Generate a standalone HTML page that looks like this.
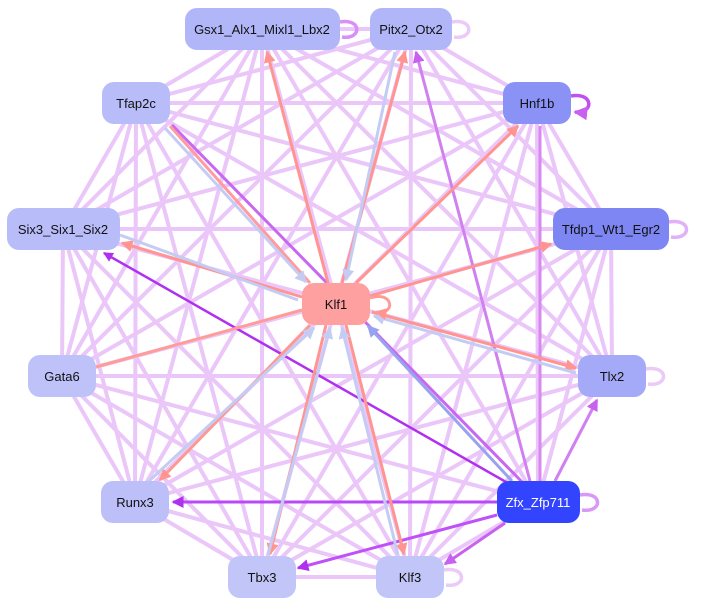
<!DOCTYPE html>
<html><head><meta charset="utf-8"><style>
html,body{margin:0;padding:0;background:#fff;}
svg{display:block;}
text{font-family:"Liberation Sans",sans-serif;font-size:13px;}
</style></head><body>
<svg width="701" height="608" viewBox="0 0 701 608" xmlns="http://www.w3.org/2000/svg">
<defs>
<marker id="ap" markerWidth="4" markerHeight="4" refX="3.5" refY="2" orient="auto" markerUnits="strokeWidth"><path d="M0,0 L4,2 L0,4z" fill="#b030f0"/></marker>
<marker id="am" markerWidth="4" markerHeight="4" refX="3.5" refY="2" orient="auto" markerUnits="strokeWidth"><path d="M0,0 L4,2 L0,4z" fill="#c860f0"/></marker>
<marker id="as" markerWidth="4" markerHeight="4" refX="3.5" refY="2" orient="auto" markerUnits="strokeWidth"><path d="M0,0 L4,2 L0,4z" fill="#ff9490"/></marker>
<marker id="ab" markerWidth="4" markerHeight="4" refX="3.5" refY="2" orient="auto" markerUnits="strokeWidth"><path d="M0,0 L4,2 L0,4z" fill="#c4ccf4"/></marker>
<marker id="ab2" markerWidth="4" markerHeight="4" refX="3.5" refY="2" orient="auto" markerUnits="strokeWidth"><path d="M0,0 L4,2 L0,4z" fill="#98a2f0"/></marker>
</defs>
<g stroke="#eac6f9" stroke-width="4" fill="none">
<line x1="262" y1="29" x2="411" y2="29"/><line x1="262" y1="29" x2="136" y2="103"/><line x1="262" y1="29" x2="537" y2="103"/><line x1="262" y1="29" x2="63" y2="229"/><line x1="262" y1="29" x2="611" y2="229"/><line x1="262" y1="29" x2="62" y2="376"/><line x1="262" y1="29" x2="612" y2="376"/><line x1="262" y1="29" x2="135" y2="502"/><line x1="262" y1="29" x2="538" y2="502"/><line x1="262" y1="29" x2="262" y2="577"/><line x1="262" y1="29" x2="410" y2="577"/>
<line x1="411" y1="29" x2="136" y2="103"/><line x1="411" y1="29" x2="537" y2="103"/><line x1="411" y1="29" x2="63" y2="229"/><line x1="411" y1="29" x2="611" y2="229"/><line x1="411" y1="29" x2="62" y2="376"/><line x1="411" y1="29" x2="612" y2="376"/><line x1="411" y1="29" x2="135" y2="502"/><line x1="411" y1="29" x2="262" y2="577"/><line x1="411" y1="29" x2="410" y2="577"/>
<line x1="136" y1="103" x2="537" y2="103"/><line x1="136" y1="103" x2="63" y2="229"/><line x1="136" y1="103" x2="611" y2="229"/><line x1="136" y1="103" x2="62" y2="376"/><line x1="136" y1="103" x2="612" y2="376"/><line x1="136" y1="103" x2="135" y2="502"/><line x1="136" y1="103" x2="262" y2="577"/><line x1="136" y1="103" x2="410" y2="577"/>
<line x1="537" y1="103" x2="63" y2="229"/><line x1="537" y1="103" x2="611" y2="229"/><line x1="537" y1="103" x2="62" y2="376"/><line x1="537" y1="103" x2="612" y2="376"/><line x1="537" y1="103" x2="135" y2="502"/><line x1="537" y1="103" x2="538" y2="502"/><line x1="537" y1="103" x2="262" y2="577"/><line x1="537" y1="103" x2="410" y2="577"/>
<line x1="63" y1="229" x2="611" y2="229"/><line x1="63" y1="229" x2="62" y2="376"/><line x1="63" y1="229" x2="612" y2="376"/><line x1="63" y1="229" x2="135" y2="502"/><line x1="63" y1="229" x2="262" y2="577"/><line x1="63" y1="229" x2="410" y2="577"/>
<line x1="611" y1="229" x2="62" y2="376"/><line x1="611" y1="229" x2="612" y2="376"/><line x1="611" y1="229" x2="135" y2="502"/><line x1="611" y1="229" x2="538" y2="502"/><line x1="611" y1="229" x2="262" y2="577"/><line x1="611" y1="229" x2="410" y2="577"/>
<line x1="62" y1="376" x2="612" y2="376"/><line x1="62" y1="376" x2="135" y2="502"/><line x1="62" y1="376" x2="538" y2="502"/><line x1="62" y1="376" x2="262" y2="577"/><line x1="62" y1="376" x2="410" y2="577"/>
<line x1="612" y1="376" x2="135" y2="502"/><line x1="612" y1="376" x2="262" y2="577"/><line x1="612" y1="376" x2="410" y2="577"/>
<line x1="135" y1="502" x2="410" y2="577"/><line x1="135" y1="502" x2="262" y2="577"/>
<line x1="538" y1="502" x2="410" y2="577"/>
<line x1="262" y1="577" x2="410" y2="577"/>
</g>
<g fill="none">
<line x1="520" y1="490" x2="104" y2="253" stroke="#b030f0" stroke-width="2.5" marker-end="url(#ap)"/>
<line x1="525" y1="485" x2="172" y2="125" stroke="#c868f0" stroke-width="3"/>
<line x1="497" y1="502" x2="173" y2="502" stroke="#b848f8" stroke-width="3" marker-end="url(#ap)"/>
<line x1="497" y1="515" x2="298" y2="568" stroke="#c050f8" stroke-width="3" marker-end="url(#ap)"/>
<line x1="505" y1="523" x2="445" y2="564" stroke="#c860f0" stroke-width="3" marker-end="url(#am)"/>
<line x1="555" y1="481" x2="597" y2="400" stroke="#d080f0" stroke-width="3" marker-end="url(#am)"/>
<line x1="530" y1="481" x2="416" y2="52" stroke="#d080f0" stroke-width="3" marker-end="url(#am)"/>
<line x1="540" y1="481" x2="540" y2="126" stroke="#d888f0" stroke-width="3"/>
<line x1="512" y1="481" x2="368" y2="326" stroke="#98a2f0" stroke-width="3" marker-end="url(#ab2)"/>
</g>
<g fill="none" stroke-width="3">
<line x1="328" y1="283" x2="267" y2="52" stroke="#ff9490" marker-end="url(#as)"/>
<line x1="342" y1="283" x2="405" y2="52" stroke="#ff9490" marker-end="url(#as)"/>
<line x1="356" y1="283" x2="518" y2="126" stroke="#ff9490" marker-end="url(#as)"/>
<line x1="370" y1="296" x2="551" y2="244" stroke="#ff9490" marker-end="url(#as)"/>
<line x1="302" y1="297" x2="122" y2="243" stroke="#ff9490" marker-end="url(#as)"/>
<line x1="310" y1="283" x2="170" y2="126" stroke="#ff9aa0"/>
<line x1="302" y1="310" x2="96" y2="367" stroke="#ff9c98"/>
<line x1="310" y1="325" x2="160" y2="480" stroke="#ff9890" marker-end="url(#as)"/>
<line x1="326" y1="325" x2="270" y2="554" stroke="#ff9490" marker-end="url(#as)"/>
<line x1="346" y1="325" x2="404" y2="554" stroke="#ff9490" marker-end="url(#as)"/>
<line x1="372" y1="312" x2="576" y2="368" stroke="#ff9490" marker-end="url(#as)"/>
<line x1="395" y1="52" x2="346" y2="280" stroke="#c4ccf4" marker-end="url(#ab)"/>
<line x1="165" y1="128" x2="306" y2="282" stroke="#c4ccf4" marker-end="url(#ab)"/>
<line x1="120" y1="235" x2="298" y2="300" stroke="#c4ccf4"/>
<line x1="576" y1="373" x2="374" y2="316" stroke="#c4ccf4" marker-end="url(#ab)"/>
<line x1="148" y1="482" x2="314" y2="328" stroke="#c4ccf4" marker-end="url(#ab)"/>
<line x1="268" y1="555" x2="330" y2="328" stroke="#c4ccf4" marker-end="url(#ab)"/>
<line x1="398" y1="555" x2="342" y2="328" stroke="#c4ccf4" marker-end="url(#ab)"/>
<path d="M370,298 C394,290 396,316 376,312" stroke="#ff9c98" marker-end="url(#as)"/>
</g>
<g fill="none" stroke-width="3.5">
<path d="M340,22 C362,18 362,40 342,37" stroke="#d890f8"/>
<path d="M452,22 C474,18 474,40 454,37" stroke="#ebc9f9"/>
<path d="M571,96 C594,92 594,114 575,112" stroke="#c050f0" marker-end="url(#am)"/>
<path d="M669,222 C692,218 692,240 671,237" stroke="#e0b0f8"/>
<path d="M646,369 C669,365 669,387 648,384" stroke="#ebc9f9"/>
<path d="M580,495 C603,491 603,513 582,510" stroke="#d898f8"/>
<path d="M444,570 C467,566 467,588 446,585" stroke="#ebc9f9"/>
</g>
<g>
<rect x="185" y="8" width="155" height="42" rx="12" fill="#b0b6f8"/>
<rect x="370" y="8" width="82" height="42" rx="12" fill="#b0b6f8"/>
<rect x="102" y="82" width="68" height="42" rx="12" fill="#b8bcf8"/>
<rect x="503" y="82" width="68" height="42" rx="12" fill="#8a92f6"/>
<rect x="7" y="208" width="113" height="42" rx="12" fill="#b8bcf8"/>
<rect x="553" y="208" width="116" height="42" rx="12" fill="#7d86f2"/>
<rect x="302" y="283" width="68" height="42" rx="12" fill="#ffa0a0"/>
<rect x="28" y="355" width="68" height="42" rx="12" fill="#bfc2f8"/>
<rect x="578" y="355" width="68" height="42" rx="12" fill="#a4aaf7"/>
<rect x="101" y="481" width="68" height="42" rx="12" fill="#bcbff8"/>
<rect x="497" y="481" width="83" height="42" rx="12" fill="#3344ff"/>
<rect x="228" y="556" width="68" height="42" rx="12" fill="#c2c5f8"/>
<rect x="376" y="556" width="68" height="42" rx="12" fill="#c2c5f8"/>
</g>
<g text-anchor="middle" fill="#111">
<text x="262" y="34">Gsx1_Alx1_Mixl1_Lbx2</text>
<text x="411" y="34">Pitx2_Otx2</text>
<text x="136" y="108">Tfap2c</text>
<text x="537" y="108">Hnf1b</text>
<text x="63" y="234">Six3_Six1_Six2</text>
<text x="611" y="234">Tfdp1_Wt1_Egr2</text>
<text x="336" y="309">Klf1</text>
<text x="62" y="381">Gata6</text>
<text x="612" y="381">Tlx2</text>
<text x="135" y="507">Runx3</text>
<text x="538" y="507" fill="#fff">Zfx_Zfp711</text>
<text x="262" y="582">Tbx3</text>
<text x="410" y="582">Klf3</text>
</g>
</svg>
</body></html>
